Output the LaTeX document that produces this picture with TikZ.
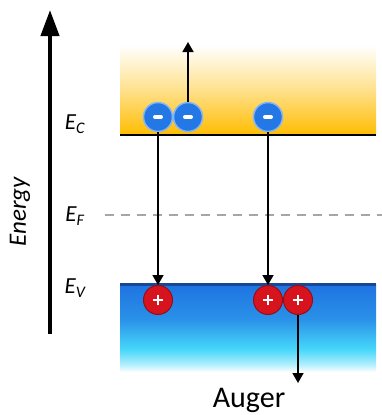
\documentclass[tikz,border=0pt]{standalone}
\usepackage{fontspec}
\setmainfont{Carlito}
\usetikzlibrary{arrows.meta}

\definecolor{cband}{RGB}{255,188,0}
\definecolor{vtop}{RGB}{30,115,225}
\definecolor{vline}{RGB}{25,70,150}
\definecolor{eblue}{RGB}{35,120,230}
\definecolor{hred}{RGB}{215,20,30}
\definecolor{fermigrey}{RGB}{165,165,165}
\definecolor{vcyan}{RGB}{70,215,250}

\pgfdeclareverticalshading{valence}{100bp}{color(0bp)=(white); color(25bp)=(white); color(29bp)=(vcyan!40!white); color(38bp)=(vcyan); color(55bp)=(vtop!70!vcyan); color(75bp)=(vtop); color(100bp)=(vtop)}

\begin{document}
\begin{tikzpicture}[x=1pt,y=-1pt]
        \tikzstyle{electron}=[circle,fill=eblue,draw=eblue!55!white,line width=1.5pt,minimum size=29pt,inner sep=0pt,
            path picture={\draw[white,line width=4pt,line cap=round] ([xshift=-3pt]path picture bounding box.center) -- ([xshift=3pt]path picture bounding box.center);}]
        \tikzstyle{hole}=[circle,fill=hred,draw=hred!70!black,line width=1pt,minimum size=29pt,inner sep=0pt,
            path picture={\draw[white,line width=2.6pt] ([xshift=-5pt]path picture bounding box.center) -- ([xshift=5pt]path picture bounding box.center);
                          \draw[white,line width=2.6pt] ([yshift=-5pt]path picture bounding box.center) -- ([yshift=5pt]path picture bounding box.center);}]
        \tikzstyle{level}=[font=\itshape\fontsize{23}{23}\selectfont,inner sep=0pt]
        \tikzstyle{arr}=[line width=1.6pt,-{Triangle[length=10pt,width=11pt]}]

        \useasboundingbox (0,0) rectangle (382,415);

        % bands
        \shade[top color=white,bottom color=cband,middle color=cband!45!white] (120,45) rectangle (376,135);
        \shade[shading=valence] (120,284) rectangle (376,372);
        \draw[line width=2.5pt] (120,135) -- (376,135);
        \draw[vline,line width=3pt] (120,284) -- (376,284);
        \draw[fermigrey,line width=1.8pt,dash pattern=on 9pt off 7pt] (105,215) -- (382,215);

        % energy axis
        \coordinate (ebot) at (50,334);
        \coordinate (etop) at (50,10);
        \draw[line width=4pt,-{Triangle[length=26pt,width=18pt]}] (ebot) -- (etop);
        \node (energy)[rotate=90,font=\itshape\fontsize{25}{25}\selectfont] at (20,212) {Energy};

        \node (ec)[level] at (75,124) {E\textsubscript{C}};
        \node (ef)[level] at (75,216) {E\textsubscript{F}};
        \node (ev)[level] at (75,288) {E\textsubscript{V}};

        % carriers
        \node (e1)[electron] at (158,117) {};
        \node (e2)[electron] at (188,117) {};
        \node (e3)[electron] at (268,117) {};
        \node (h1)[hole] at (158,300) {};
        \node (h2)[hole] at (268,300) {};
        \node (h3)[hole] at (298,300) {};

        \coordinate (up) at (188,42);
        \coordinate (down) at (298,383);

        \draw[arr] (e1) -- (h1);
        \draw[arr] (e3) -- (h2);
        \draw[arr] (e2) -- (up);
        \draw[arr] (h3) -- (down);

        \node (auger)[font=\fontsize{30}{30}\selectfont] at (249,400) {Auger};
    \end{tikzpicture}
\end{document}
